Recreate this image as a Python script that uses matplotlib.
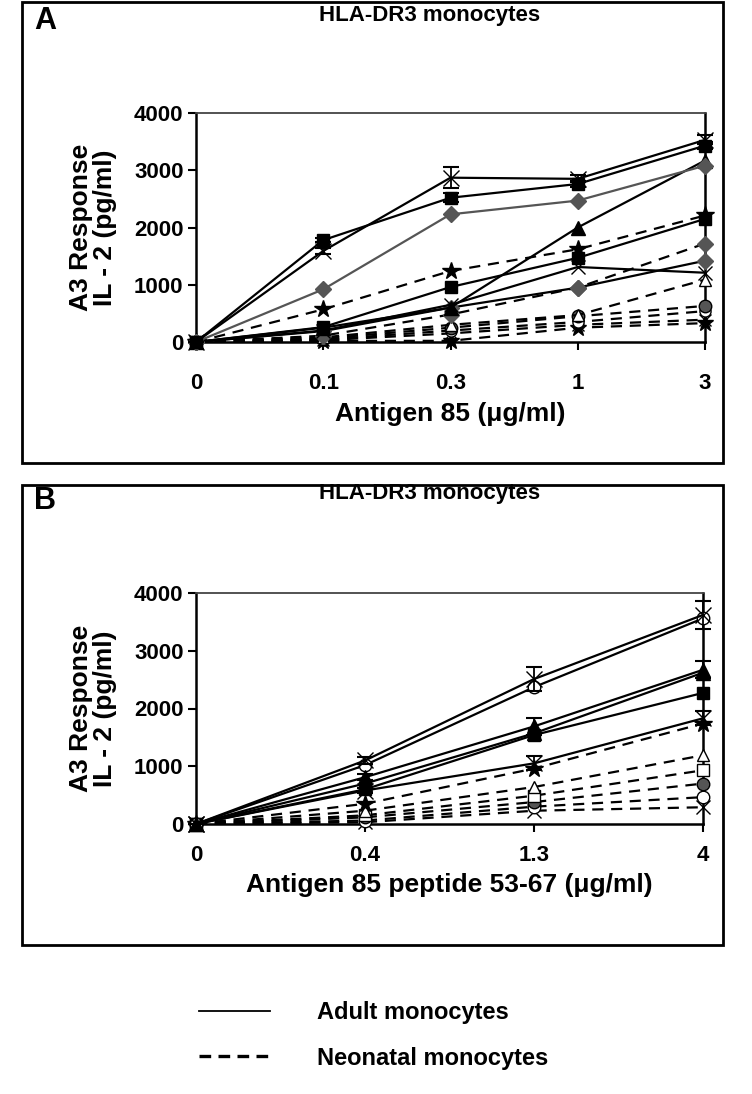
import matplotlib
matplotlib.use("Agg")
import matplotlib.pyplot as plt
from matplotlib.patches import Rectangle
from matplotlib.lines import Line2D
import numpy as np

plt.rcParams['font.family'] = ['Liberation Sans', 'DejaVu Sans']
plt.rcParams['font.weight'] = 'bold'

# ---------------- Data ----------------
# Panel A: Antigen 85
a_ticks = ["0", "0.1", "0.3", "1", "3"]
a_adult_1 = [0, 1590, 2870, 2850, 3530]
a_adult_2 = [0, 1780, 2520, 2760, 3430]
a_adult_3 = [0, 920, 2230, 2470, 3080]
a_adult_4 = [0, 250, 600, 2000, 3170]
a_adult_5 = [0, 260, 960, 1470, 2150]
a_adult_6 = [0, 200, 650, 1310, 1210]
a_adult_7 = [0, 190, 600, 950, 1420]
a_neo_1 = [0, 570, 1240, 1620, 2210]
a_neo_2 = [0, 110, 480, 950, 1720]
a_neo_3 = [0, 80, 300, 470, 1090]
a_neo_4 = [0, 60, 250, 450, 630]
a_neo_5 = [0, 40, 200, 350, 540]
a_neo_6 = [0, 30, 150, 300, 390]
a_neo_7 = [0, 20, 20, 250, 330]
a_err_1 = [0, 60, 180, 60, 80]
a_err_2 = [0, 40, 80, 50, 60]

# Panel B: Antigen 85 peptide 53-67
b_ticks = ["0", "0.4", "1.3", "4"]
b_adult_1 = [0, 1100, 2510, 3620]
b_adult_2 = [0, 1020, 2370, 3560]
b_adult_3 = [0, 810, 1690, 2670]
b_adult_4 = [0, 700, 1570, 2620]
b_adult_5 = [0, 600, 1540, 2270]
b_adult_6 = [0, 580, 1050, 1830]
b_neo_1 = [0, 350, 960, 1740]
b_neo_2 = [0, 230, 640, 1190]
b_neo_3 = [0, 150, 490, 930]
b_neo_4 = [0, 115, 380, 700]
b_neo_5 = [0, 60, 300, 465]
b_neo_6 = [0, 30, 230, 290]
b_err_1 = [0, 60, 200, 250]
b_err_3 = [0, 50, 150, 150]
b_err_6 = [0, 40, 120, 120]

W, H = 752, 1094
fig = plt.figure(figsize=(W / 100, H / 100), dpi=100)

def fx(px):
    return px / W

def fy(py):
    return 1 - py / H

# panel frames
for top, bot in [(2, 463), (485, 945)]:
    fig.add_artist(Rectangle((fx(22), fy(bot)), fx(723) - fx(22), fy(top) - fy(bot),
                             transform=fig.transFigure, fill=False, lw=2, ec='black'))

solid_kw = dict(color='black', lw=1.6, ls='-')
dash_kw = dict(color='black', lw=1.6, ls=(0, (5, 3.5)))
gray = '#555555'

TICK_FS = 16
LABEL_FS = 19


def style_axes(ax, ticks, xlabel, xpad, xlabelpad):
    ax.set_ylim(0, 4000)
    ax.set_yticks([0, 1000, 2000, 3000, 4000])
    ax.set_xlim(0, len(ticks) - 1)
    ax.set_xticks(range(len(ticks)))
    ax.set_xticklabels(ticks)
    for s in ['left', 'bottom', 'right']:
        ax.spines[s].set_linewidth(1.8)
        ax.spines[s].set_color('black')
    ax.spines['top'].set_linewidth(1.3)
    ax.spines['top'].set_color('#444444')
    ax.tick_params(axis='both', direction='out', length=6, width=1.5,
                   labelsize=TICK_FS, pad=3)
    ax.tick_params(axis='x', pad=xpad)
    for lab in ax.get_xticklabels() + ax.get_yticklabels():
        lab.set_fontweight('bold')
    ax.set_xlabel(xlabel, fontsize=LABEL_FS, fontweight='bold', labelpad=xlabelpad)
    ax.set_ylabel("A3 Response\nIL - 2 (pg/ml)", fontsize=LABEL_FS, fontweight='bold',
                  labelpad=12, linespacing=1.0)


def plot(ax, x, y, kw, marker, mfc='black', mec='black', ms=8, err=None, color=None):
    k = dict(kw)
    if color is not None:
        k['color'] = color
    if err is not None:
        ax.errorbar(x, y, yerr=err, marker=marker, mfc=mfc, mec=mec, ms=ms,
                    capsize=6, elinewidth=1.3, capthick=1.5, ecolor='black',
                    clip_on=False, zorder=3, **k)
    else:
        ax.plot(x, y, marker=marker, mfc=mfc, mec=mec, ms=ms, clip_on=False,
                zorder=3, **k)

# ---------------- Panel A ----------------
axA = fig.add_axes([fx(196), fy(342), fx(705) - fx(196), fy(113) - fy(342)])
xa = np.arange(len(a_ticks))
plot(axA, xa, a_neo_7, dash_kw, '*', ms=12)
plot(axA, xa, a_neo_6, dash_kw, 'x', ms=9, mec='black')
plot(axA, xa, a_neo_5, dash_kw, 'o', mfc='white', ms=8)
plot(axA, xa, a_neo_4, dash_kw, 'o', mfc=gray, ms=9)
plot(axA, xa, a_neo_3, dash_kw, '^', mfc='white', ms=9)
plot(axA, xa, a_neo_2, dash_kw, 'D', mfc=gray, mec=gray, ms=8)
plot(axA, xa, a_neo_1, dash_kw, '*', ms=13)
plot(axA, xa, a_adult_7, solid_kw, 'D', mfc=gray, mec=gray, ms=8)
plot(axA, xa, a_adult_6, solid_kw, 'x', ms=10, mec='black')
plot(axA, xa, a_adult_5, solid_kw, 's', ms=9)
plot(axA, xa, a_adult_4, solid_kw, '^', ms=10)
plot(axA, xa, a_adult_3, solid_kw, 'D', mfc=gray, mec=gray, ms=8, color=gray)
plot(axA, xa, a_adult_2, solid_kw, 's', ms=9, err=a_err_2)
plot(axA, xa, a_adult_1, solid_kw, 'x', ms=12, mec='black', err=a_err_1)
style_axes(axA, a_ticks, "Antigen 85 (\u03bcg/ml)", xpad=16, xlabelpad=6)

fig.text(fx(45), fy(21), "A", fontsize=22, fontweight='bold', ha='center', va='center')
fig.text(fx(430), fy(16), "HLA-DR3 monocytes", fontsize=16, fontweight='bold',
         ha='center', va='center')

# ---------------- Panel B ----------------
axB = fig.add_axes([fx(196), fy(824), fx(703) - fx(196), fy(593) - fy(824)])
xb = np.arange(len(b_ticks))
plot(axB, xb, b_neo_6, dash_kw, 'x', ms=10, mec='black')
plot(axB, xb, b_neo_5, dash_kw, 'o', mfc='white', ms=9)
plot(axB, xb, b_neo_4, dash_kw, 'o', mfc=gray, ms=9)
plot(axB, xb, b_neo_3, dash_kw, 's', mfc='white', ms=8)
plot(axB, xb, b_neo_2, dash_kw, '^', mfc='white', ms=9)
plot(axB, xb, b_neo_1, dash_kw, '*', ms=13)
plot(axB, xb, b_adult_6, solid_kw, 'x', ms=11, mec='black', err=b_err_6)
plot(axB, xb, b_adult_5, solid_kw, 's', ms=9)
plot(axB, xb, b_adult_4, solid_kw, '^', ms=10)
plot(axB, xb, b_adult_3, solid_kw, '^', ms=10, err=b_err_3)
plot(axB, xb, b_adult_2, solid_kw, 'o', mfc='white', ms=9)
plot(axB, xb, b_adult_1, solid_kw, 'x', ms=12, mec='black', err=b_err_1)
style_axes(axB, b_ticks, "Antigen 85 peptide 53-67 (\u03bcg/ml)", xpad=9, xlabelpad=5)

fig.text(fx(45), fy(501), "B", fontsize=22, fontweight='bold', ha='center', va='center')
fig.text(fx(430), fy(494), "HLA-DR3 monocytes", fontsize=16, fontweight='bold',
         ha='center', va='center')

# ---------------- Legend ----------------
handles = [Line2D([], [], color='black', lw=1.3, ls='-'),
           Line2D([], [], color='black', lw=2.4, ls=(0, (3.5, 2.2)))]
fig.legend(handles, ["Adult monocytes", "Neonatal monocytes"],
           loc='upper left', bbox_to_anchor=(fx(178), fy(980)),
           frameon=False, handlelength=3.0, handletextpad=2.0,
           labelspacing=0.95, prop=dict(size=17, weight='bold'))

fig.savefig("out.png", dpi=100)
